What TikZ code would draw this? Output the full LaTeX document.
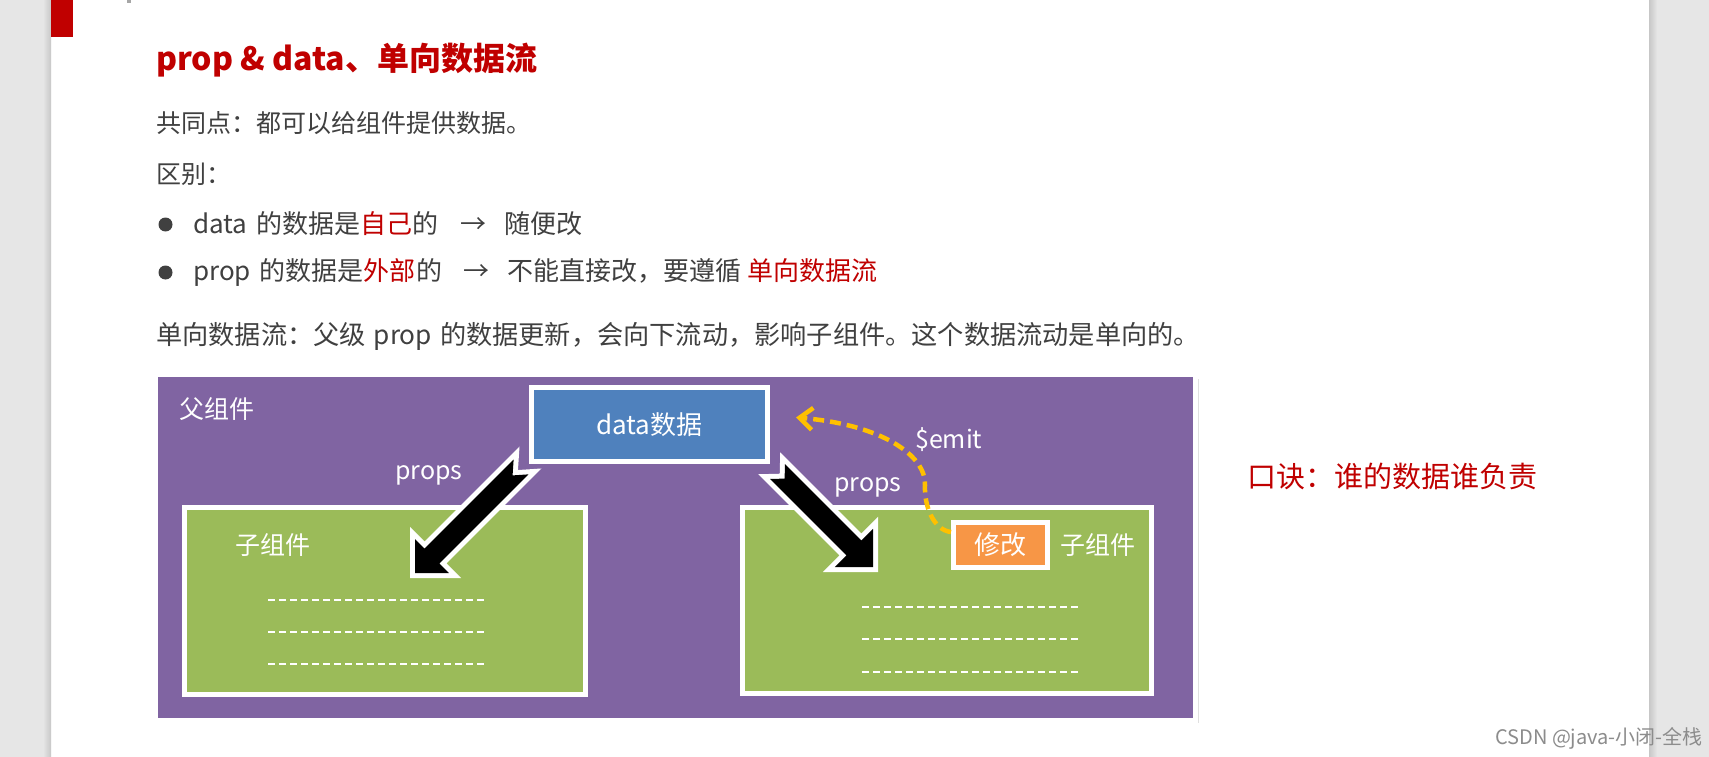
\documentclass[tikz,border=0pt]{standalone}
\usepackage{fontspec}
\setmainfont{Noto Sans CJK SC}
\usetikzlibrary{arrows.meta}
\definecolor{pagegray}{HTML}{E6E6E6}
\definecolor{titlered}{HTML}{C00000}
\definecolor{bodygray}{HTML}{404040}
\definecolor{purp}{HTML}{8064A2}
\definecolor{blu}{HTML}{4F81BD}
\definecolor{grn}{HTML}{9BBB59}
\definecolor{org}{HTML}{F79646}
\definecolor{gold}{HTML}{FFC000}
\begin{document}
\begin{tikzpicture}[x=1pt,y=-1pt,
  body/.style={anchor=west, inner sep=0, text=bodygray, font=\fontsize{25}{30}\selectfont},
  bodyl/.style={body, font=\fontsize{26}{31}\selectfont},
  wtext/.style={inner sep=0, text=white, font=\fontsize{25}{30}\selectfont},
  box/.style={draw=white, line width=5, inner sep=0, rectangle},
  dline/.style={white, line width=2, dash pattern=on 7 off 4},
  emitline/.style={gold, line width=4.5, dash pattern=on 11 off 6, line cap=butt,
     -{Straight Barb[length=13pt,width=22pt]}},
  bullet/.style={circle, fill=bodygray, inner sep=0, minimum size=14}
]
\useasboundingbox (0,0) rectangle (1709,757);
\fill[white] (0,0) rectangle (1709,757);
\fill[pagegray] (0,0) rectangle (51,757);
\fill[pagegray] (1649,0) rectangle (1709,757);
\shade[left color=pagegray, right color=black!22] (43,0) rectangle (51,757);
\shade[left color=black!22, right color=pagegray] (1649,0) rectangle (1657,757);
\fill[titlered] (51,0) rectangle (73,37);
\fill[black!35] (127,0) rectangle (131,3);

% header texts
\node[anchor=west, inner sep=0, text=titlered, font=\fontsize{32}{38}\selectfont\bfseries] (title) at (156,60) {prop \& data、单向数据流};
\node[body] (common) at (156,123) {共同点：都可以给组件提供数据。};
\node[body] (diff) at (156,174) {区别：};
\node[bullet] (dot1) at (165.5,224.5) {};
\node[bodyl] (b1) at (193,224) {data\hspace{9pt}的数据是\textcolor{titlered}{自己}的\hspace{22pt}→\hspace{18pt}随便改};
\node[bullet] (dot2) at (165.5,272.5) {};
\node[bodyl] (b2) at (193,272) {prop\hspace{9pt}的数据是\textcolor{titlered}{外部}的\hspace{22pt}→\hspace{18pt}不能直接改，要遵循 \textcolor{titlered}{单向数据流}};
\node[bodyl, font=\fontsize{26.2}{31}\selectfont] (flow) at (156,336) {单向数据流：父级\hspace{8pt}prop\hspace{8pt}的数据更新，会向下流动，影响子组件。这个数据流动是单向的。};

% diagram
\fill[black!12] (158,379) rectangle (1199,723);
\node[box, fill=purp, minimum width=1040, minimum height=346] (parent) at (675.5,547.5) {};
\node[wtext, anchor=west] (ptitle) at (179,409) {父组件};

\node[box, fill=blu, minimum width=236, minimum height=74, font=\fontsize{26}{30}\selectfont, text=white] (data) at (649.5,424.5) {data数据};

\node[box, fill=grn, minimum width=401, minimum height=187] (lchild) at (385,601) {};
\node[wtext, anchor=west] (ltitle) at (235,545) {子组件};
\node[box, fill=grn, minimum width=409, minimum height=186] (rchild) at (947,600.5) {};
\node[wtext, anchor=west] (rtitle) at (1060,545) {子组件};
\node[box, fill=org, minimum width=94, minimum height=45, font=\fontsize{26}{30}\selectfont, text=white] (modify) at (1000.5,545) {修改};

\foreach \yy in {600,632,664} \draw[dline] (268,\yy) -- (487,\yy);
\foreach \yy in {607,639,672} \draw[dline] (862,\yy) -- (1080,\yy);

% block arrows
\coordinate (ltip) at (415,573);
\coordinate (rtip) at (873,567);
\begin{scope}[shift={(ltip)}, rotate=225]
  \draw[white, line width=10, line join=miter] (-150,10.5) -- (-24,10.5) -- (-24,24) -- (0,0) -- (-24,-24) -- (-24,-10.5) -- (-150,-10.5) -- (-138,0) -- cycle;
  \fill[black] (-150,10.5) -- (-24,10.5) -- (-24,24) -- (0,0) -- (-24,-24) -- (-24,-10.5) -- (-150,-10.5) -- (-138,0) -- cycle;
\end{scope}
\begin{scope}[shift={(rtip)}, rotate=-45]
  \draw[white, line width=10, line join=miter] (-135,10.5) -- (-27,10.5) -- (-27,27) -- (0,0) -- (-27,-27) -- (-27,-10.5) -- (-135,-10.5) -- (-125,0) -- cycle;
  \fill[black] (-135,10.5) -- (-27,10.5) -- (-27,27) -- (0,0) -- (-27,-27) -- (-27,-10.5) -- (-135,-10.5) -- (-125,0) -- cycle;
\end{scope}
\node[wtext, anchor=base west] (lprops) at (395,479) {props};
\node[wtext, anchor=base west] (rprops) at (834,491) {props};

% emit
\coordinate (emitmid) at (925,485);
\draw[emitline] ([yshift=13]modify.west) .. controls +(-18,-2) and +(-1,20) .. (emitmid) .. controls +(1,-30) and +(85,7) .. ([xshift=26,yshift=7]data.east);
\node[wtext, anchor=base west] (emit) at (915,448) {\$emit};

% right side
\node[anchor=west, inner sep=0, text=titlered, font=\fontsize{29}{34}\selectfont] (motto) at (1247,476) {口诀：谁的数据谁负责};
\node[anchor=west, inner sep=0, text=black!45, font=\fontsize{20}{24}\selectfont] (mark) at (1495,738) {CSDN @java-小闭-全栈};
\end{tikzpicture}
\end{document}
